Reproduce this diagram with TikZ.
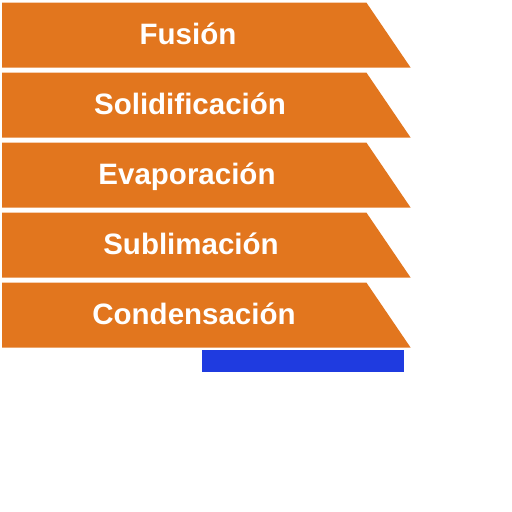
\documentclass[tikz,border=0pt]{standalone}
\usepackage{xcolor}
\usepackage{fontspec}
\setmainfont{Liberation Sans}
\usepackage{tikz}

\definecolor{stageorange}{RGB}{226,118,30}
\definecolor{barblue}{RGB}{31,59,224}

\begin{document}
\begin{tikzpicture}[
    x=1pt, y=-1pt,
    stage/.style={fill=stageorange},
    label/.style={text=white, font=\fontsize{29.5}{32}\selectfont\bfseries, inner sep=0pt, anchor=base},
    bar/.style={fill=barblue}
]
    \useasboundingbox (0,0) rectangle (512,512);

    \fill[stage] (2,2.7) -- (366.5,2.7) -- (410.7,67.7) -- (2,67.7) -- cycle;
    \fill[stage] (2,72.7) -- (366.5,72.7) -- (410.7,137.7) -- (2,137.7) -- cycle;
    \fill[stage] (2,142.7) -- (366.5,142.7) -- (410.7,207.7) -- (2,207.7) -- cycle;
    \fill[stage] (2,212.7) -- (366.5,212.7) -- (410.7,277.7) -- (2,277.7) -- cycle;
    \fill[stage] (2,282.7) -- (366.5,282.7) -- (410.7,347.7) -- (2,347.7) -- cycle;

    \node[label] (fusion) at (188,44) {Fusión};
    \node[label] (solid) at (190,114) {Solidificación};
    \node[label] (evap) at (187,184) {Evaporación};
    \node[label] (subl) at (191,254) {Sublimación};
    \node[label] (cond) at (194,324) {Condensación};

    \fill[bar] (202,350) rectangle (404,371.7);
\end{tikzpicture}
\end{document}
